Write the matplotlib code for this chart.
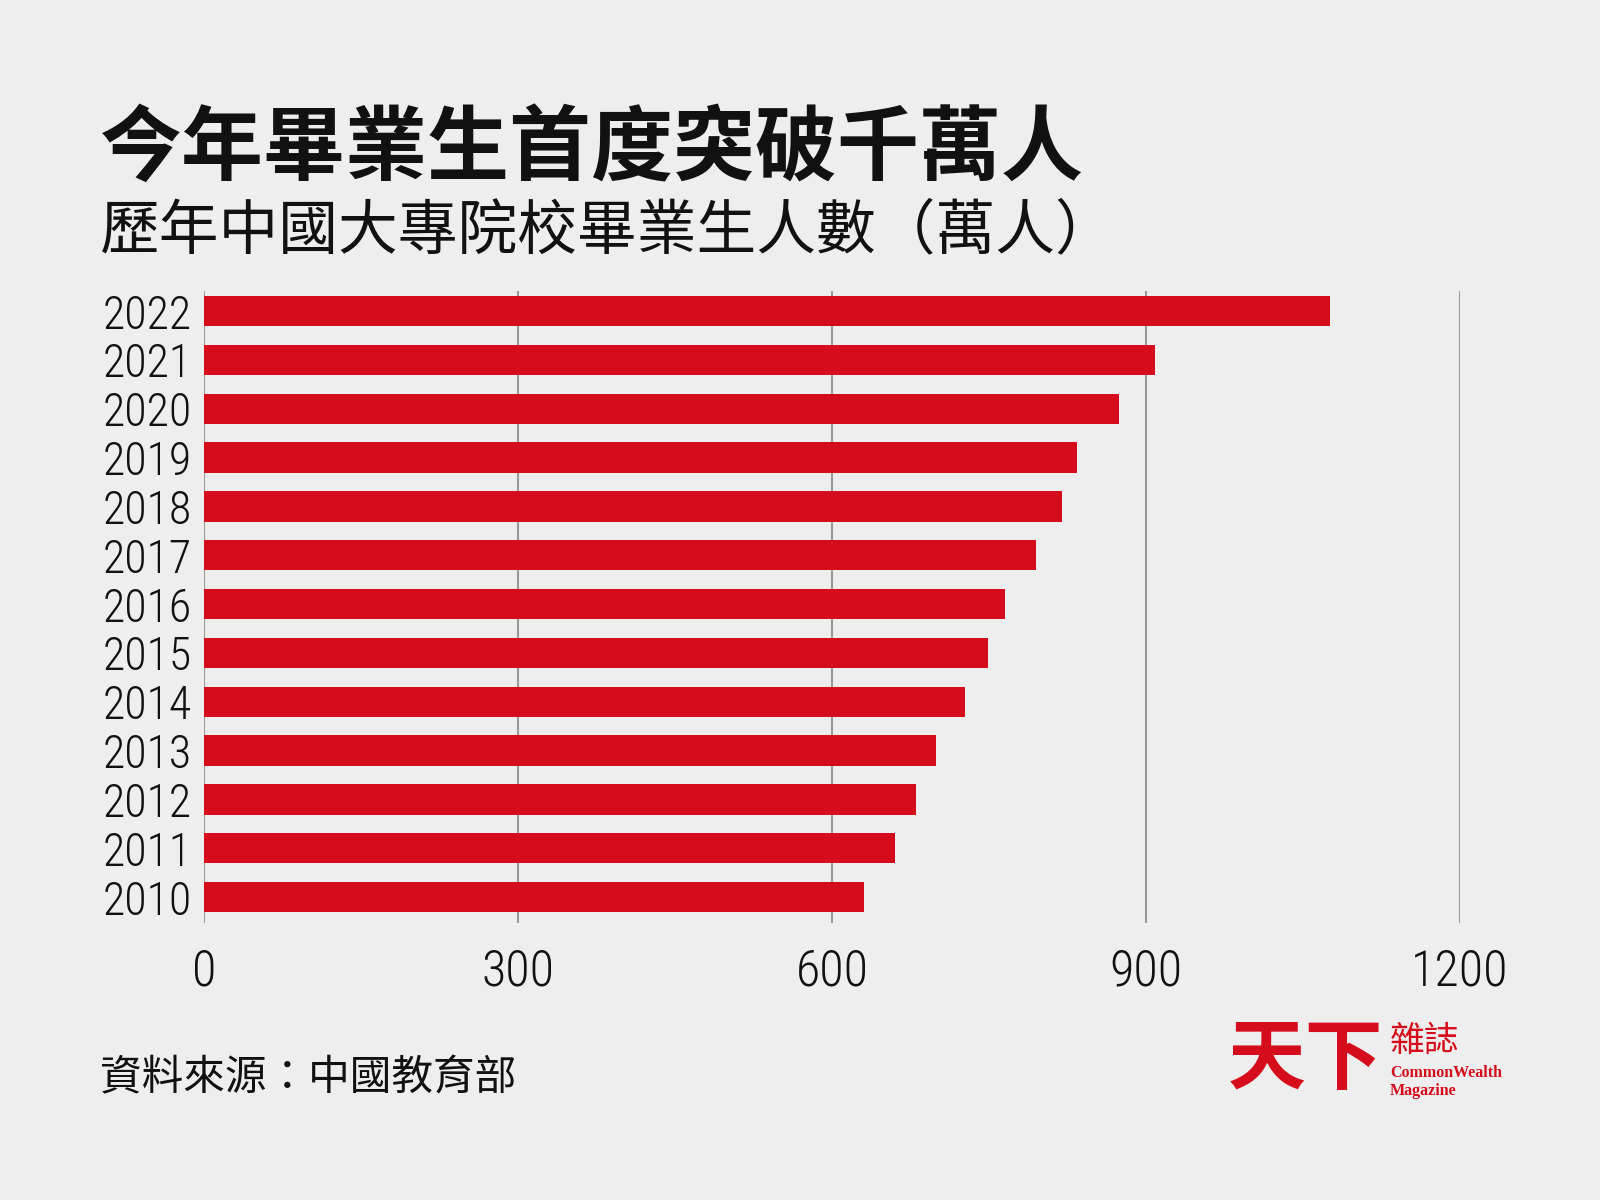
import matplotlib
matplotlib.use("Agg")
import matplotlib.pyplot as plt

# data (萬人)
years = ['2010', '2011', '2012', '2013', '2014', '2015', '2016',
         '2017', '2018', '2019', '2020', '2021', '2022']
graduates = [631, 660, 680, 699, 727, 749, 765, 795, 820, 834, 874, 909, 1076]
xticks = [0, 300, 600, 900, 1200]

title = '今年畢業生首度突破千萬人'
subtitle = '歷年中國大專院校畢業生人數（萬人）'
source = '資料來源：中國教育部'

bg = '#eeeeee'
red = '#d50c1b'
cjk = ['Noto Sans CJK TC', 'DejaVu Sans']
num_font = ['Roboto Condensed', 'Liberation Sans Narrow', 'Roboto', 'DejaVu Sans']

W, H = 1600, 1200
fig = plt.figure(figsize=(16, 12), dpi=100, facecolor=bg)


def px(x, y):
    return x / W, 1 - y / H


ax = fig.add_axes([204 / W, 1 - 923 / H, (1460 - 204) / W, (923 - 291) / H])
ax.set_facecolor(bg)

ypos = list(range(len(years)))
ax.barh(ypos, graduates, height=0.62, color=red, zorder=3)

ax.set_xlim(0, 1200)
ax.set_ylim(-0.53, len(years) - 1 + 0.41)
ax.set_xticks(xticks)
ax.set_xticklabels([str(t) for t in xticks], fontfamily=num_font,
                   fontweight='light', fontsize=36)
ax.set_yticks(ypos)
ax.set_yticklabels(years, fontfamily=num_font, fontweight='light', fontsize=33)
ax.tick_params(axis='both', length=0, colors='#111111')
ax.tick_params(axis='x', pad=18)
ax.tick_params(axis='y', pad=9)

for t in xticks:
    ax.axvline(t, color='#999999', linewidth=1.5, zorder=1)
for s in ax.spines.values():
    s.set_visible(False)

# titles
fig.text(*px(100, 150), title, fontfamily=cjk, fontweight='bold', fontsize=59,
         ha='left', va='center', color='#111111')
fig.text(*px(100, 232), subtitle, fontfamily=cjk, fontsize=43,
         ha='left', va='center', color='#111111')
fig.text(*px(100, 1079), source, fontfamily=cjk, fontsize=30,
         ha='left', va='center', color='#111111')

# logo
fig.text(*px(1228, 1060), '天下', fontfamily=cjk, fontweight='heavy', fontsize=56,
         ha='left', va='center', color=red)
fig.text(*px(1390, 1041), '雜誌', fontfamily=cjk, fontsize=25,
         ha='left', va='center', color=red)
fig.text(*px(1390, 1073), 'CommonWealth', fontfamily=['Liberation Serif', 'DejaVu Serif'],
         fontweight='bold', fontsize=11.5, ha='left', va='center', color=red)
fig.text(*px(1390, 1091), 'Magazine', fontfamily=['Liberation Serif', 'DejaVu Serif'],
         fontweight='bold', fontsize=11.5, ha='left', va='center', color=red)

fig.savefig('out.png', dpi=100, facecolor=bg)
